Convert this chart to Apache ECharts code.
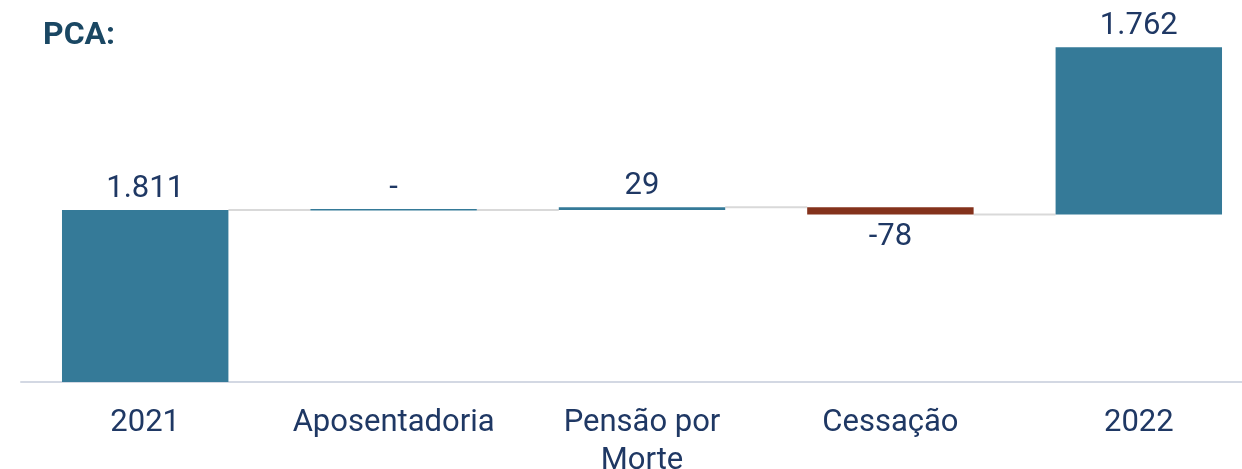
<!DOCTYPE html>
<html>
<head>
<meta charset="utf-8">
<script src="https://cdn.jsdelivr.net/npm/echarts@6/dist/echarts.min.js"></script>
<style>
html,body{margin:0;padding:0;background:#fff;}
#chart{width:1242px;height:469px;}
</style>
</head>
<body>
<div id="chart"></div>
<script>
const categories = ['2021', 'Aposentadoria', 'Pensão por\nMorte', 'Cessação', '2022'];
const barStart = [0, 1811, 1811, 1840, 1762];
const barEnd = [1811, 1811, 1840, 1762, 3524];
const valueLabels = ['1.811', '-', '29', '-78', '1.762'];
const barColors = ['#357a98', '#357a98', '#357a98', '#84321c', '#357a98'];

const data = categories.map((c, i) => [i, barStart[i], barEnd[i]]);

const chart = echarts.init(document.getElementById('chart'));
chart.setOption({
  animation: false,
  title: {
    text: 'PCA:', left: 38, top: 15,
    textStyle: { fontFamily: 'Roboto', fontWeight: 'bold', fontSize: 32, color: '#1a4763' }
  },
  grid: { left: 21, right: -21, top: 21, bottom: 87, containLabel: false, outerBoundsMode: 'none' },
  xAxis: {
    type: 'category', data: categories, boundaryGap: true,
    axisLine: { lineStyle: { color: '#d3d8e3', width: 2 } },
    axisTick: { show: false },
    axisLabel: { fontFamily: 'Roboto', fontSize: 31, color: '#1f3864', margin: 22, lineHeight: 38, interval: 0 }
  },
  yAxis: { type: 'value', min: 0, max: 3800, show: false, splitLine: { show: false } },
  series: [{
    type: 'custom',
    data: data,
    encode: { x: 0, y: [1, 2] },
    renderItem: function (params, api) {
      const i = api.value(0);
      const s = api.value(1), e = api.value(2);
      const pS = api.coord([i, s]);
      const pE = api.coord([i, e]);
      const bw = api.size([1, 0])[0] * 0.67;
      const x = pS[0] - bw / 2;
      let y0 = Math.min(pS[1], pE[1]);
      let h = Math.abs(pS[1] - pE[1]);
      if (h < 1.5) { y0 = pE[1] - 1; h = 1.5; }
      const children = [];
      if (i < categories.length - 1) {
        const pn = api.coord([i + 1, e]);
        children.push({
          type: 'line', z2: 1,
          shape: { x1: x + bw, y1: pE[1], x2: pn[0] - bw / 2, y2: pE[1] },
          style: { stroke: '#d9d9d9', lineWidth: 2 }
        });
      }
      children.push({
        type: 'rect', z2: 2,
        shape: { x: x, y: y0, width: bw, height: h },
        style: { fill: barColors[i] }
      });
      const neg = e < s;
      children.push({
        type: 'text', z2: 3,
        style: {
          text: valueLabels[i],
          x: pS[0],
          y: neg ? y0 + h + 7 : y0 - 5,
          align: 'center',
          verticalAlign: neg ? 'top' : 'bottom',
          font: '31px Roboto',
          fill: '#1f3864'
        }
      });
      return { type: 'group', children: children };
    }
  }]
});
</script>
</body>
</html>
